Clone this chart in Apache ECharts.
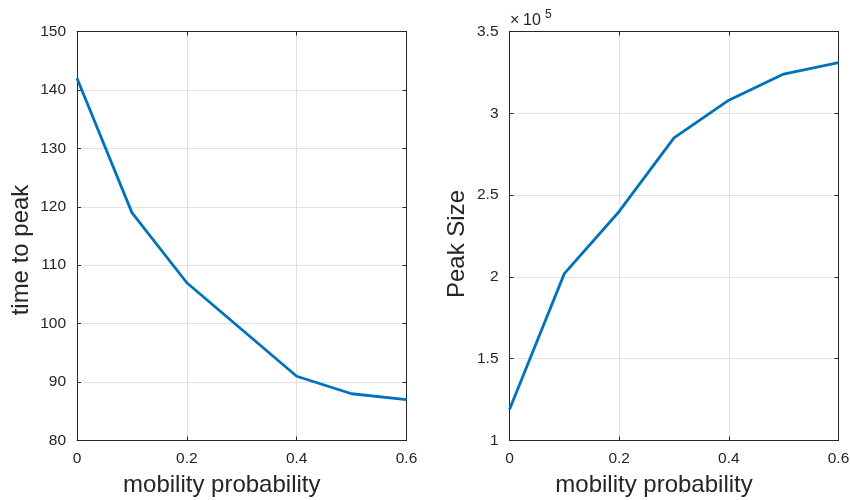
<!DOCTYPE html>
<html>
<head>
<meta charset="utf-8">
<script src="https://cdn.jsdelivr.net/npm/echarts@6/dist/echarts.min.js"></script>
<style>
  html, body { margin: 0; padding: 0; background: #fff; }
  #chart { width: 850px; height: 500px; }
</style>
</head>
<body>
<div id="chart"></div>
<script>
// Mobility probabilities shared by both panels
const mobility = [0, 0.1, 0.2, 0.3, 0.4, 0.5, 0.6];
// Left panel: time to epidemic peak
const timeToPeak = [142, 119, 107, 99, 91, 88, 87];
// Right panel: peak size, in units of 10^5
const peakSize = [1.19, 2.02, 2.40, 2.85, 3.08, 3.24, 3.31];

const FONT = 'Liberation Sans, Arial, Helvetica, sans-serif';
const AXIS_COLOR = '#262626';
const GRID_COLOR = '#e2e2e2';
const LINE_COLOR = '#0072BD';
const TICK_FONT = 15.5;
const LABEL_FONT = 24;

function pairs(xs, ys) { return xs.map((x, i) => [x, ys[i]]); }

function xAxisPair(gridIndex) {
  const base = {
    type: 'value', gridIndex, min: 0, max: 0.6, interval: 0.2,
    axisLine: { show: true, onZero: false, lineStyle: { color: AXIS_COLOR, width: 1 } },
    axisTick: { show: true, inside: true, length: 4, lineStyle: { color: AXIS_COLOR } }
  };
  return [
    Object.assign({}, base, {
      position: 'bottom',
      name: 'mobility probability', nameLocation: 'middle', nameGap: 33,
      nameTextStyle: { fontFamily: FONT, fontSize: LABEL_FONT, color: AXIS_COLOR, padding: [0, 40, 0, 0] },
      axisLabel: { fontFamily: FONT, fontSize: TICK_FONT, color: AXIS_COLOR, margin: 10,
                   formatter: v => (v === 0 ? '0' : v.toFixed(1)) },
      splitLine: { show: true, lineStyle: { color: GRID_COLOR, width: 1 } }
    }),
    Object.assign({}, base, {
      position: 'top', axisLabel: { show: false }, splitLine: { show: false }
    })
  ];
}

function yAxisPair(gridIndex, min, max, interval, name, gap, shiftPad) {
  const base = {
    type: 'value', gridIndex, min, max, interval,
    axisLine: { show: true, onZero: false, lineStyle: { color: AXIS_COLOR, width: 1 } },
    axisTick: { show: true, inside: true, length: 4, lineStyle: { color: AXIS_COLOR } }
  };
  return [
    Object.assign({}, base, {
      position: 'left',
      name, nameLocation: 'middle', nameGap: gap,
      nameTextStyle: { fontFamily: FONT, fontSize: LABEL_FONT, color: AXIS_COLOR, padding: [0, shiftPad, 0, 0] },
      axisLabel: { fontFamily: FONT, fontSize: TICK_FONT, color: AXIS_COLOR, margin: 11,
                   formatter: v => String(v) },
      splitLine: { show: true, lineStyle: { color: GRID_COLOR, width: 1 } }
    }),
    Object.assign({}, base, {
      position: 'right', axisLabel: { show: false }, splitLine: { show: false }
    })
  ];
}

const chart = echarts.init(document.getElementById('chart'), null, { renderer: 'canvas' });

chart.setOption({
  backgroundColor: '#ffffff',
  animation: false,
  // exponent marker for the right panel's y axis
  graphic: [
    { type: 'text', left: 510, top: 13,
      style: { text: '×', font: '16px ' + FONT, fill: AXIS_COLOR } },
    { type: 'text', left: 523, top: 13,
      style: { text: '10', font: '16px ' + FONT, fill: AXIS_COLOR } },
    { type: 'text', left: 545, top: 9,
      style: { text: '5', font: '12px ' + FONT, fill: AXIS_COLOR } }
  ],
  grid: [
    { left: 77, right: 443.5, top: 31.5, bottom: 59.5, containLabel: false, outerBoundsMode: 'none' },
    { left: 509.5, right: 11.5, top: 31.5, bottom: 59.5, containLabel: false, outerBoundsMode: 'none' }
  ],
  xAxis: [...xAxisPair(0), ...xAxisPair(1)],
  yAxis: [
    ...yAxisPair(0, 80, 150, 10, 'time to peak', 44, 28),
    ...yAxisPair(1, 1, 3.5, 0.5, 'Peak Size', 40, 16)
  ],
  series: [
    {
      type: 'line', xAxisIndex: 0, yAxisIndex: 0,
      data: pairs(mobility, timeToPeak),
      showSymbol: false, lineStyle: { color: LINE_COLOR, width: 2.8 }, itemStyle: { color: LINE_COLOR }
    },
    {
      type: 'line', xAxisIndex: 2, yAxisIndex: 2,
      data: pairs(mobility, peakSize),
      showSymbol: false, lineStyle: { color: LINE_COLOR, width: 2.8 }, itemStyle: { color: LINE_COLOR }
    }
  ]
});
</script>
</body>
</html>
